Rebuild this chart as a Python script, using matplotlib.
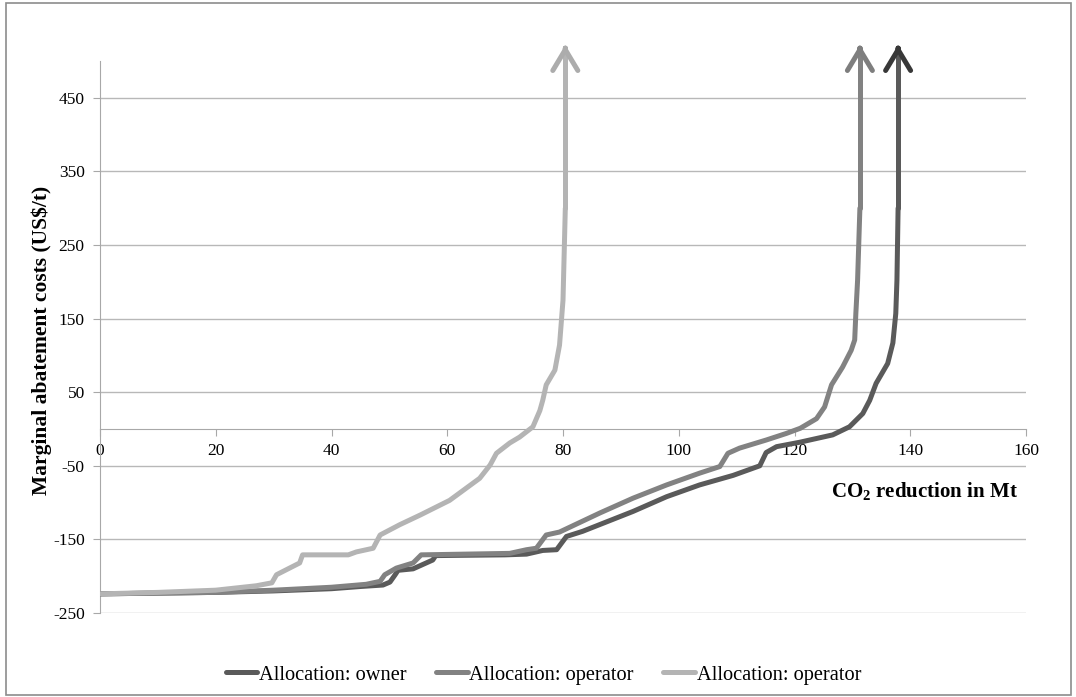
import matplotlib
matplotlib.use("Agg")
import matplotlib.pyplot as plt
from matplotlib.patches import Rectangle

plt.rcParams['font.family'] = ['Liberation Serif', 'DejaVu Serif']
plt.rcParams['mathtext.fontset'] = 'custom'
plt.rcParams['mathtext.rm'] = 'Liberation Serif'
plt.rcParams['mathtext.bf'] = 'Liberation Serif:bold'
plt.rcParams['axes.unicode_minus'] = False

# kurven (x in Mt, y in US$/t)
owner_x = [0, 10, 20, 30, 40, 45, 48.9, 50.1, 51, 51.5, 54.1, 57.5, 58, 70, 73.7, 76.5, 78.9, 80.6,
           83.4, 92.1, 97.9, 103.6, 109.4, 114, 115.1, 116.9, 120.9, 126.6, 129.5, 131.8, 133,
           134.1, 136.1, 137, 137.5, 137.7, 137.9]
owner_y = [-224, -223, -222, -220, -217, -214, -212, -208, -198, -192, -190, -178, -172, -171, -170,
           -165, -164, -146, -139, -112, -92, -76, -63, -50, -32, -24, -18, -8, 3, 21, 39,
           62, 89, 117, 157, 202, 300]

operator_x = [0, 10, 20, 30, 40, 46, 48.4, 49.2, 51.2, 54.1, 55.5, 70.8, 73.7, 75.4, 77.1, 79.4,
              86.4, 92.1, 97.9, 103.6, 107.1, 108.5, 110.5, 115.1, 118.6, 121, 123.8, 125.2,
              126.4, 128.3, 129.8, 130.4, 130.6, 130.9, 131.3]
operator_y = [-224, -223, -222, -219, -215, -211, -207, -198, -189, -182, -171, -169, -164, -162,
              -144, -140, -114, -94, -76, -60, -51, -33, -26, -15, -6, 1, 14, 30,
              60, 84, 107, 121, 157, 202, 300]

light_x = [0, 10, 20, 27, 29.7, 30.5, 32, 34.5, 35, 42.9, 44.3, 47.2, 48.4, 51.8, 55.3, 60.4,
           65.6, 67.4, 68.5, 70.8, 72.5, 74.8, 76, 76.5, 77.1, 78.6, 79.4, 80, 80.4]
light_y = [-224, -222, -219, -213, -209, -198, -192, -182, -171, -171, -167, -162, -144, -130,
           -117, -97, -67, -49, -33, -19, -11, 3, 25, 39, 60, 80, 114, 175, 300]

labels = ['Allocation: owner', 'Allocation: operator', 'Allocation: operator']
farben = ['#5a5a5a', '#828282', '#b4b4b4']
kopf_farben = ['#383838', '#7e7e7e', '#acacac']
pfeil_y = 522

x_ticks = list(range(0, 161, 20))
y_ticks = list(range(-250, 451, 100))

fig = plt.figure(figsize=(10.76, 6.97), dpi=100)
ax = fig.add_axes([100 / 1076, 1 - 613 / 697, 926 / 1076, 552 / 697])

kopf = '->,head_length=1.5,head_width=0.9'
serien = [(owner_x, owner_y), (operator_x, operator_y), (light_x, light_y)]
for (xs, ys), lab, c, kc in zip(serien, labels, farben, kopf_farben):
    ax.plot(xs, ys, color=c, lw=3.6, label=lab, solid_joinstyle='round',
            solid_capstyle='round', zorder=3)
    # schaft nach oben
    ax.plot([xs[-1], xs[-1]], [ys[-1], pfeil_y - 4], color=c, lw=3.6,
            solid_capstyle='round', clip_on=False, zorder=3)
    # pfeilspitze
    ax.annotate('', xy=(xs[-1], pfeil_y), xytext=(xs[-1], pfeil_y - 6),
                arrowprops=dict(arrowstyle=kopf, color=kc, lw=3.6, shrinkA=0, shrinkB=0,
                                capstyle='round', joinstyle='round'),
                annotation_clip=False, zorder=4)

ax.set_xlim(0, 160)
ax.set_ylim(-250, 500)
ax.set_xticks(x_ticks)
ax.set_yticks(y_ticks)
ax.yaxis.grid(True, color='#b8b8b8', lw=1)
ax.set_axisbelow(True)

for s in ['top', 'right']:
    ax.spines[s].set_visible(False)
ax.spines['bottom'].set_position(('data', 0))
ax.spines['bottom'].set_color('#a8a8a8')
ax.spines['left'].set_color('#a8a8a8')
ax.tick_params(axis='both', colors='#a8a8a8', labelcolor='black', labelsize=12.5, length=5)
ax.tick_params(axis='y', pad=6)
ax.tick_params(axis='x', pad=5)

fig.text(42 / 1076, 1 - 340 / 697, 'Marginal abatement costs (US\\$/t)', rotation=90,
         ha='center', va='center', fontsize=15.5, fontweight='bold')
ax.text(0.991, 0.219, r'CO$_\mathbf{2}$ reduction in Mt', transform=ax.transAxes,
        ha='right', va='center', fontsize=15, fontweight='bold')

fig.legend(loc='center', bbox_to_anchor=(0.505, 1 - 675 / 697), ncol=3, frameon=False,
           fontsize=14.7, handlelength=1.55, handletextpad=0.08, columnspacing=1.45)

fig.patches.append(Rectangle((6 / 1076, 2 / 697), 1065 / 1076, 692 / 697, transform=fig.transFigure,
                             fill=False, edgecolor='#8c8c8c', lw=1.2))

fig.savefig('out.png', dpi=100)
